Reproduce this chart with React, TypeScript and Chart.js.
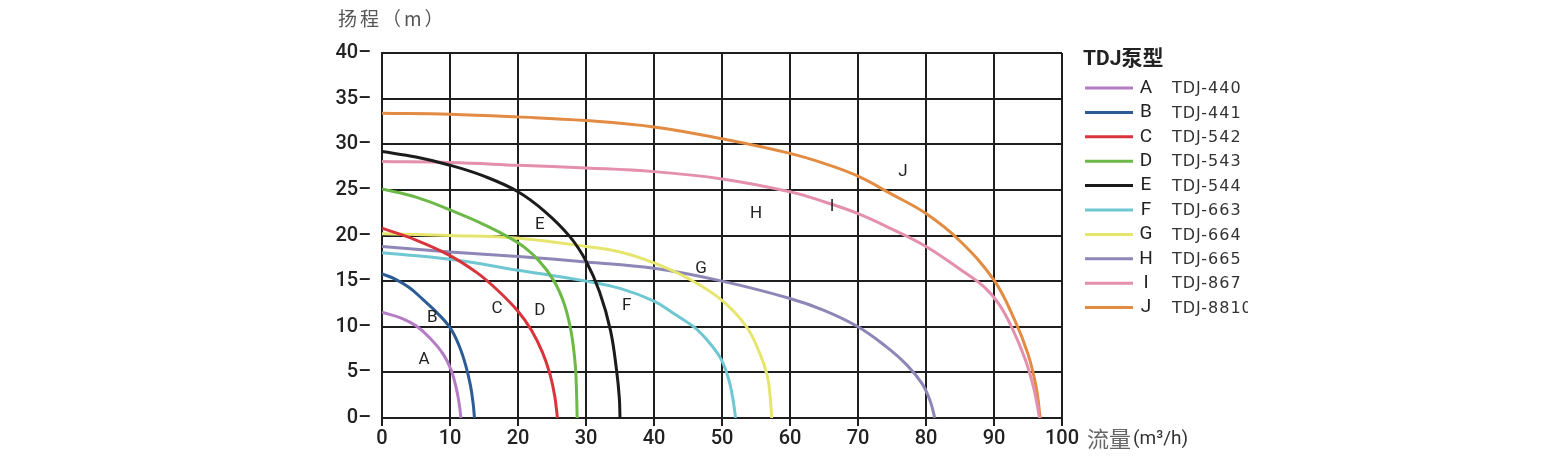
import { useEffect, useRef } from "react"
import { Chart, registerables, ChartConfiguration, Plugin } from "chart.js"

Chart.register(...registerables)

// 泵型
const pumpLetters = ["A", "B", "C", "D", "E", "F", "G", "H", "I", "J"]
const pumpModels = ["TDJ-440", "TDJ-441", "TDJ-542", "TDJ-543", "TDJ-544", "TDJ-663", "TDJ-664", "TDJ-665", "TDJ-867", "TDJ-8810"]
const pumpColors = ["#b57cc6", "#2d5b95", "#d8343b", "#6cb948", "#1b1b1b", "#6fc7d2", "#e6e66e", "#8e86b6", "#e48fae", "#e28b42"]

// flow (m3/h), head (m)
const curveA = [[0, 11.6], [3, 10.9], [5, 10.1], [7, 8.8], [9, 7], [10.2, 5.2], [11, 3], [11.4, 1.3], [11.6, 0]]
const curveB = [[0, 15.8], [2, 15.2], [4, 14.3], [6, 13], [8, 11.6], [10, 9.9], [11.3, 8], [12.3, 5.8], [13, 3.6], [13.4, 1.6], [13.6, 0]]
const curveC = [[0, 20.8], [5, 19.5], [10, 17.8], [14, 15.9], [17, 14], [20, 11.7], [22, 9.6], [23.6, 7.2], [24.7, 4.8], [25.4, 2.4], [25.8, 0]]
const curveD = [[0, 25.1], [5, 24.2], [10, 22.8], [15, 21.2], [20, 19.2], [23, 17.3], [25.3, 15], [26.8, 12.5], [27.8, 9.5], [28.4, 6], [28.6, 3], [28.7, 0]]
const curveE = [[0, 29.2], [5, 28.6], [10, 27.7], [15, 26.5], [20, 24.8], [24, 22.6], [27.6, 19.9], [30, 17.2], [32, 13.8], [33.6, 9.6], [34.5, 5.2], [34.9, 2.2], [35, 0]]
const curveF = [[0, 18.1], [10, 17.4], [20, 16.2], [30, 15], [35, 14.2], [40, 12.8], [43, 11.4], [46, 9.9], [48.2, 8.2], [49.9, 6.4], [51, 4.2], [51.6, 2.1], [52, 0]]
const curveG = [[0, 20.2], [10, 20], [20, 19.7], [30, 18.8], [35, 18.2], [40, 17], [45, 15.3], [50, 12.9], [53.6, 10], [55.6, 7], [56.7, 4.5], [57.1, 2.2], [57.3, 0]]
const curveH = [[0, 18.8], [10, 18.2], [20, 17.7], [30, 17.1], [40, 16.4], [50, 15], [60, 13.1], [65, 11.8], [70, 10], [74, 7.9], [77.2, 5.8], [79.4, 3.8], [80.6, 1.9], [81.3, 0]]
const curveI = [[0, 28.1], [10, 28], [20, 27.7], [30, 27.4], [40, 27], [50, 26.2], [60, 24.8], [65, 23.7], [70, 22.4], [75, 20.7], [80, 18.8], [85, 16.3], [88.5, 14.4], [90.8, 12.4], [92.7, 9.8], [94.6, 6.4], [95.9, 3.1], [96.7, 0]]
const curveJ = [[0, 33.4], [10, 33.3], [20, 33], [30, 32.6], [40, 31.9], [50, 30.6], [60, 29], [65, 27.9], [70, 26.5], [75, 24.5], [80, 22.4], [85, 19.4], [90, 15.1], [93, 10.8], [95, 7], [96.2, 3.4], [96.8, 0]]
const curves = [curveA, curveB, curveC, curveD, curveE, curveF, curveG, curveH, curveI, curveJ]

// where each curve letter sits on the chart
const labelSpots = [[6.2, 6.4], [7.4, 11], [16.9, 12], [23.2, 11.7], [23.2, 21.2], [36, 12.3], [46.9, 16.4], [55, 22.4], [66.2, 23.2], [76.6, 27]]

const yTitle = "扬程（m）"
const xTitleCn = "流量"
const xTitleUnit = "(m³/h)"
const legendTitle = "TDJ泵型"

const numFont = "Roboto, sans-serif"
const cjkFont = "'Noto Sans CJK SC', sans-serif"

const extras: Plugin = {
	id: "extras",
	afterDatasetsDraw(chart) {
		const { ctx, chartArea, scales } = chart
		const x = scales.x
		const y = scales.y
		ctx.save()

		// curve letters
		ctx.fillStyle = "#222"
		ctx.font = `17px ${numFont}`
		ctx.textAlign = "center"
		ctx.textBaseline = "middle"
		labelSpots.forEach((p, i) => {
			ctx.fillText(pumpLetters[i], x.getPixelForValue(p[0]), y.getPixelForValue(p[1]))
		})

		// axis titles
		ctx.fillStyle = "#555"
		ctx.textAlign = "left"
		ctx.font = `19px ${cjkFont}`
		ctx.letterSpacing = "3px"
		ctx.fillText(yTitle, chartArea.left - 44, chartArea.top - 34)
		ctx.letterSpacing = "0px"
		const tx = x.getPixelForValue(100) + 25
		ctx.fillStyle = "#666"
		ctx.font = `22px ${cjkFont}`
		ctx.fillText(xTitleCn, tx, chartArea.bottom + 21)
		ctx.fillStyle = "#333"
		ctx.font = `19px ${numFont}`
		ctx.fillText(xTitleUnit, tx + 46, chartArea.bottom + 21)

		// legend
		ctx.beginPath()
		ctx.rect(chartArea.right + 10, 0, 176, chart.height)
		ctx.clip()
		const lx = chartArea.right + 21
		ctx.fillStyle = "#222"
		ctx.font = `bold 21px Roboto, 'Noto Sans CJK SC', sans-serif`
		ctx.fillText(legendTitle, lx, 60)
		pumpModels.forEach((m, i) => {
			const ry = 88 + i * 24.4
			ctx.strokeStyle = pumpColors[i]
			ctx.lineWidth = 3
			ctx.beginPath()
			ctx.moveTo(lx + 2, ry)
			ctx.lineTo(lx + 50, ry)
			ctx.stroke()
			ctx.fillStyle = "#222"
			ctx.textAlign = "center"
			ctx.font = `19px ${numFont}`
			ctx.fillText(pumpLetters[i], lx + 63, ry)
			ctx.textAlign = "left"
			ctx.fillStyle = "#333"
			ctx.font = `16px 'DejaVu Sans', sans-serif`
			ctx.letterSpacing = "1px"
			ctx.fillText(m, lx + 89, ry + 1)
			ctx.letterSpacing = "0px"
		})
		ctx.restore()
	}
}

const config: ChartConfiguration = {
	type: "line",
	data: {
		datasets: curves.map((c, i) => ({
			label: pumpModels[i],
			data: c.map((p) => ({ x: p[0], y: p[1] })),
			borderColor: pumpColors[i],
			borderWidth: 3,
			pointRadius: 0,
			tension: 0.4,
			fill: false
		}))
	},
	options: {
		animation: false,
		responsive: true,
		maintainAspectRatio: false,
		layout: {
			padding: { left: 300, top: 53, right: 480, bottom: 12 }
		},
		plugins: {
			legend: { display: false },
			tooltip: { enabled: false }
		},
		scales: {
			x: {
				type: "linear",
				min: 0,
				max: 100,
				afterFit(scale) {
					scale.height = 32
				},
				grid: {
					color: "#1e1e1e",
					lineWidth: 2,
					tickLength: 8,
					tickColor: "#1e1e1e"
				},
				border: { color: "#1e1e1e", width: 2 },
				ticks: {
					stepSize: 10,
					color: "#222",
					padding: 1,
					maxRotation: 0,
					font: { family: numFont, size: 20, weight: 500 }
				}
			},
			y: {
				type: "linear",
				min: 0,
				max: 40,
				afterFit(scale) {
					scale.width = 82
				},
				grid: {
					color: "#1e1e1e",
					lineWidth: 2,
					drawTicks: false
				},
				border: { color: "#1e1e1e", width: 2 },
				ticks: {
					stepSize: 5,
					color: "#222",
					padding: 11,
					font: { family: numFont, size: 20, weight: 500 },
					callback(v) {
						return v + "–"
					}
				}
			}
		}
	},
	plugins: [extras]
}

export default function App() {
	const canvasRef = useRef<HTMLCanvasElement>(null)

	useEffect(() => {
		document.body.style.margin = "0"
		const ctx = canvasRef.current?.getContext("2d") as CanvasRenderingContext2D
		const chart = new Chart(ctx, config)
		return () => {
			chart.destroy()
		}
	}, [])

	return (
		<div style={{ width: 1542, height: 462, position: "relative", background: "#fff" }}>
			<canvas ref={canvasRef}></canvas>
		</div>
	)
}
